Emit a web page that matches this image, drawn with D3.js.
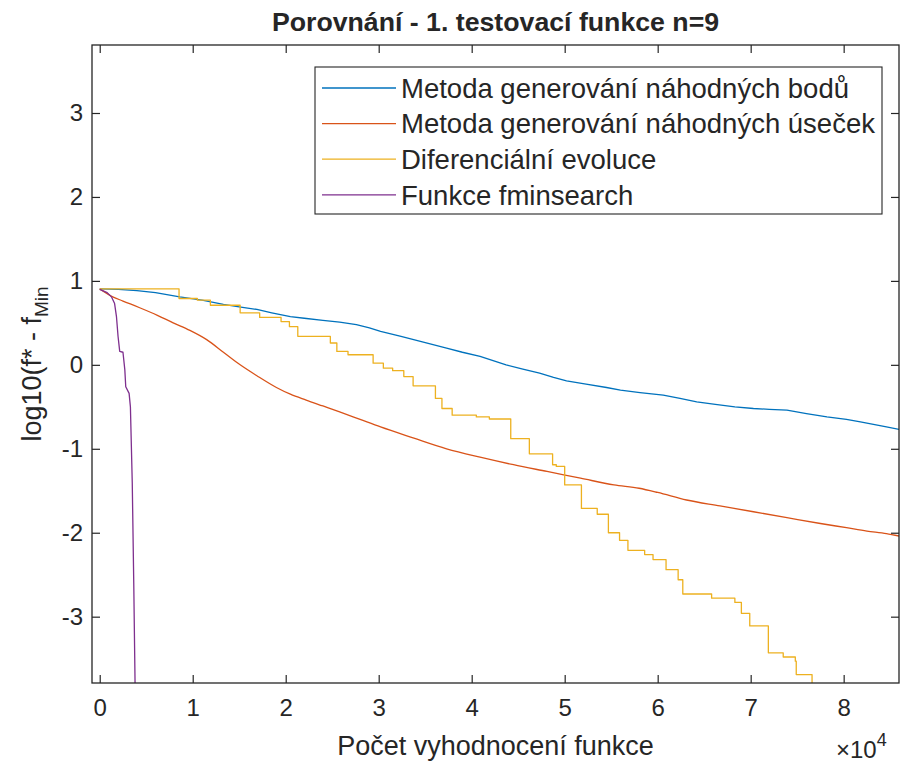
<!DOCTYPE html>
<html><head><meta charset="utf-8">
<script src="https://cdn.jsdelivr.net/npm/d3@7"></script>
<style>
html,body{margin:0;padding:0;background:#fff;}
text{font-family:"Liberation Sans",Arial,Helvetica,sans-serif;fill:#262626;}
</style></head>
<body><svg id="chart" width="903" height="765"></svg>
<script>
// ---------- data ----------
const titleText = "Porovnání - 1. testovací funkce n=9";
const xLabelText = "Počet vyhodnocení funkce";
const seriesNames = ["Metoda generování náhodných bodů","Metoda generování náhodných úseček","Diferenciální evoluce","Funkce fminsearch"];
const seriesColors = ["#0072BD","#D95319","#EDB120","#7E2F8E"];
const xTickValues = [0,10000,20000,30000,40000,50000,60000,70000,80000];
const xTickLabels = ["0","1","2","3","4","5","6","7","8"];
const yTickValues = [-3,-2,-1,0,1,2,3];
const yTickLabels = ["-3","-2","-1","0","1","2","3"];
const xDomain = [-830, 85950];
const yDomain = [-3.79, 3.81];

// blue: random points
const bodyX = [0,2000,4000,6000,8600,11000,13300,15000,16900,18500,20500,22000,24000,25800,27600,29000,30200,32400,34800,37300,39000,40900,42300,43700,45500,47300,48800,50200,52300,54500,56000,58100,60600,62400,64200,66200,68300,70300,72000,73900,76000,78200,80300,81800,83200,84600,86000];
const bodyY = [0.905,0.90,0.885,0.86,0.81,0.77,0.72,0.69,0.66,0.62,0.575,0.555,0.53,0.51,0.48,0.44,0.40,0.34,0.27,0.20,0.15,0.10,0.05,0.0,-0.05,-0.10,-0.15,-0.19,-0.23,-0.27,-0.30,-0.33,-0.36,-0.40,-0.44,-0.47,-0.50,-0.52,-0.53,-0.54,-0.58,-0.62,-0.65,-0.68,-0.71,-0.74,-0.77];
// red: random segments
const usekX = [0,1400,2500,4300,6200,7900,9700,11500,13300,15100,16900,19000,20500,22200,24000,25800,28000,30200,33700,37300,40900,44500,48100,51700,55300,58000,60000,63100,66700,70300,73900,77500,80300,82500,84600,86000];
const usekY = [0.905,0.81,0.76,0.68,0.59,0.50,0.41,0.30,0.15,0.0,-0.13,-0.27,-0.35,-0.42,-0.49,-0.56,-0.65,-0.74,-0.87,-1.00,-1.10,-1.19,-1.27,-1.35,-1.43,-1.47,-1.52,-1.61,-1.68,-1.75,-1.82,-1.89,-1.94,-1.98,-2.01,-2.04];
// yellow: differential evolution (step levels)
const deX = [0,8530,10500,11900,15100,17200,19500,20400,21300,24800,25500,26700,29400,30500,31500,32700,33700,36100,36800,37900,40500,41900,44200,46200,48700,49100,50000,51800,53500,54700,55900,56800,58600,59500,60900,62200,62700,65800,68300,69000,69900,71900,73500,74800,74900,76600,78000];
const deY = [0.905,0.79,0.77,0.71,0.62,0.565,0.515,0.455,0.34,0.26,0.16,0.12,0.02,-0.04,-0.07,-0.14,-0.25,-0.40,-0.52,-0.60,-0.62,-0.645,-0.88,-1.06,-1.19,-1.21,-1.43,-1.71,-1.78,-2.0,-2.09,-2.21,-2.26,-2.32,-2.44,-2.56,-2.73,-2.78,-2.83,-2.96,-3.11,-3.43,-3.48,-3.53,-3.69,-3.85,-4.2];
// purple: fminsearch
const fminX = [0,800,1260,1600,1800,1970,2150,2500,2700,2800,3160,3300,3500,3660,3800,3900];
const fminY = [0.9,0.86,0.81,0.73,0.575,0.34,0.16,0.15,-0.06,-0.26,-0.34,-0.50,-1.41,-2.6,-3.79,-4.6];

// ---------- layout ----------
const svg = d3.select("#chart");
const L = 92, R = 899, T = 45, B = 683;
const x = d3.scaleLinear().domain(xDomain).range([L, R]);
const y = d3.scaleLinear().domain(yDomain).range([B, T]);
const axisColor = "#262626";

svg.append("defs").append("clipPath").attr("id","clip")
  .append("rect").attr("x",L).attr("y",T).attr("width",R-L).attr("height",B-T);

const zip = (xs, ys) => xs.map((v,i)=>[v, ys[i]]);
const series = [
  {pts: zip(bodyX, bodyY), curve: d3.curveLinear},
  {pts: zip(usekX, usekY), curve: d3.curveMonotoneX},
  {pts: zip(deX, deY), curve: d3.curveStepAfter},
  {pts: zip(fminX, fminY), curve: d3.curveLinear}
];
const g = svg.append("g").attr("clip-path","url(#clip)");
series.forEach((s,i)=>{
  const line = d3.line().x(d=>x(d[0])).y(d=>y(d[1])).curve(s.curve);
  g.append("path").attr("d", line(s.pts)).attr("fill","none")
    .attr("stroke", seriesColors[i]).attr("stroke-width",1.3).attr("stroke-linejoin","round");
});

// axes (ticks inside, mirrored)
const tl = 8;
const xb = svg.append("g").attr("transform",`translate(0,${B})`)
  .call(d3.axisBottom(x).tickValues(xTickValues).tickFormat((d,i)=>xTickLabels[i]).tickSizeInner(-tl).tickSizeOuter(0).tickPadding(16));
const xt = svg.append("g").attr("transform",`translate(0,${T})`)
  .call(d3.axisTop(x).tickValues(xTickValues).tickFormat("").tickSizeInner(-tl).tickSizeOuter(0));
const yl = svg.append("g").attr("transform",`translate(${L},0)`)
  .call(d3.axisLeft(y).tickValues(yTickValues).tickFormat((d,i)=>yTickLabels[i]).tickSizeInner(-tl).tickSizeOuter(0).tickPadding(9));
const yr = svg.append("g").attr("transform",`translate(${R},0)`)
  .call(d3.axisRight(y).tickValues(yTickValues).tickFormat("").tickSizeInner(-tl).tickSizeOuter(0));
[xb,xt,yl,yr].forEach(a=>{
  a.select(".domain").remove();
  a.selectAll(".tick line").attr("stroke",axisColor).attr("stroke-width",1.2);
  a.selectAll(".tick text").attr("fill",axisColor).style("font-size","24px")
   .style("font-family",'"Liberation Sans",Arial,sans-serif');
});
svg.append("rect").attr("x",L).attr("y",T).attr("width",R-L).attr("height",B-T)
  .attr("fill","none").attr("stroke",axisColor).attr("stroke-width",1.3);

// title
svg.append("text").attr("x",(L+R)/2).attr("y",31).attr("text-anchor","middle")
  .style("font-size","26.7px").style("font-weight","bold").attr("fill","#000").text(titleText);
// x label
svg.append("text").attr("x",(L+R)/2).attr("y",755).attr("text-anchor","middle")
  .style("font-size","27px").text(xLabelText);
// x10^4
const ex = svg.append("text").attr("x",836).attr("y",758).style("font-size","24px");
ex.append("tspan").text("×10");
ex.append("tspan").attr("dy",-12).style("font-size","18px").text("4");
// y label
const ylab = svg.append("text").attr("transform",`translate(41,${(T+B)/2}) rotate(-90)`)
  .attr("text-anchor","middle").style("font-size","27px");
ylab.append("tspan").text("log10(f* - f");
ylab.append("tspan").attr("dy",7).style("font-size","19px").text("Min");

// legend
const lg = svg.append("g");
lg.append("rect").attr("x",315).attr("y",67).attr("width",567).attr("height",147)
  .attr("fill","#fff").attr("stroke",axisColor).attr("stroke-width",1.1);
seriesNames.forEach((n,i)=>{
  const cy = 88 + i*35.6;
  lg.append("line").attr("x1",322).attr("x2",396).attr("y1",cy).attr("y2",cy)
    .attr("stroke",seriesColors[i]).attr("stroke-width",1.3);
  lg.append("text").attr("x",401).attr("y",cy+9.8).style("font-size","27.5px").attr("fill","#000").text(n);
});
</script></body></html>
